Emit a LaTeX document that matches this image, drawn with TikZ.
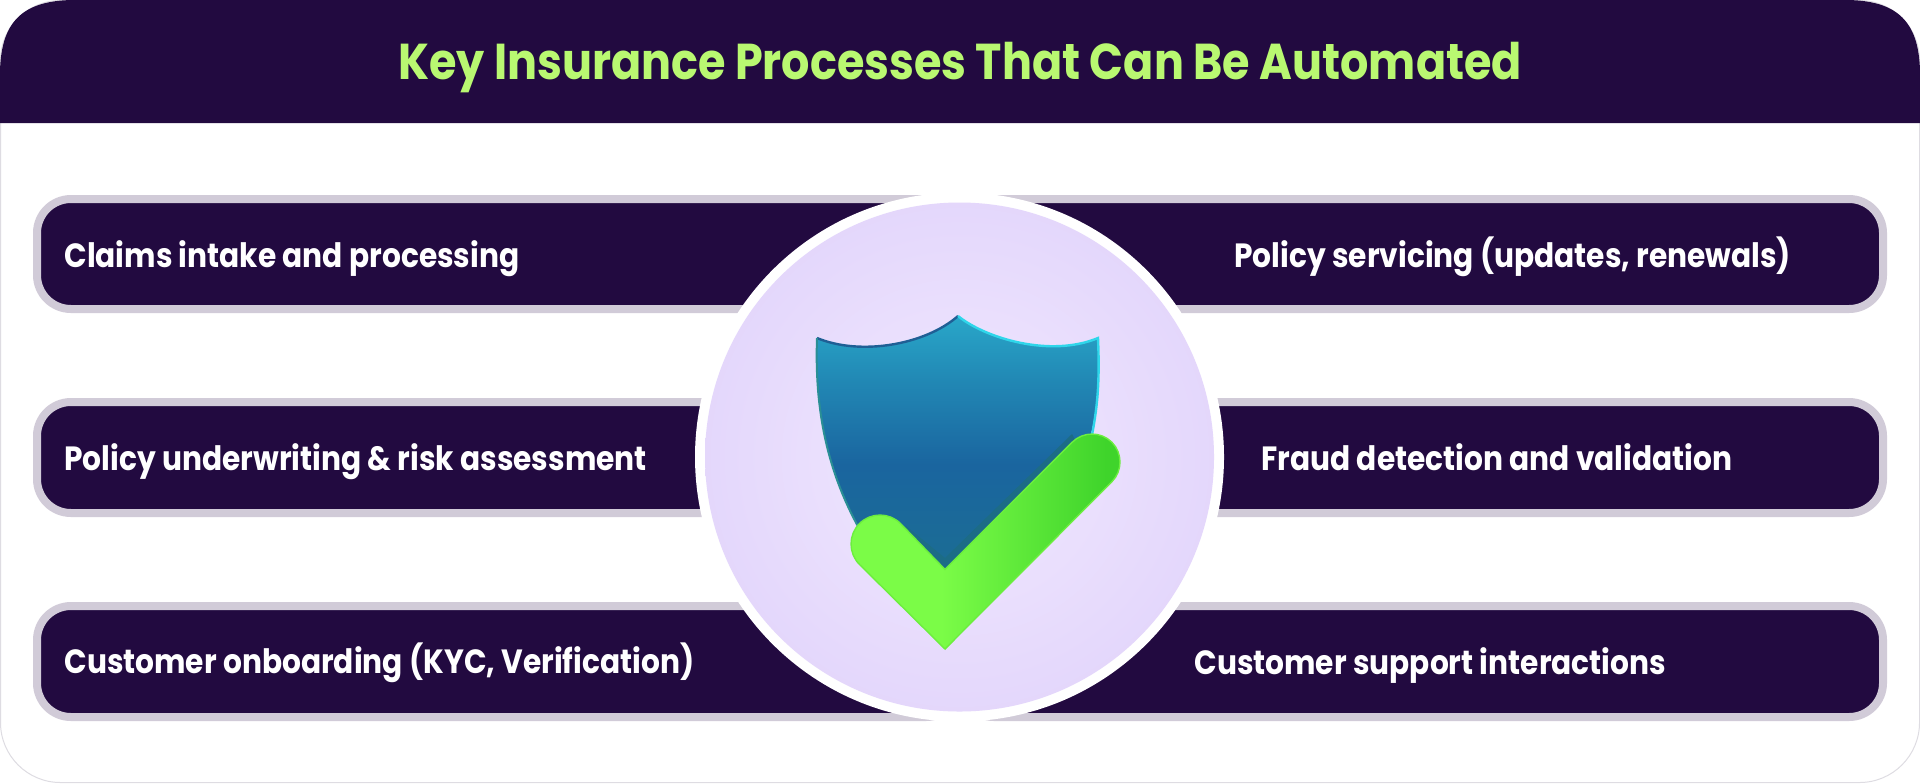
\documentclass[tikz,border=0pt]{standalone}
\usepackage{fontspec}
\setmainfont{Poppins}[BoldFont=Poppins Bold,BoldFeatures={FakeStretch=0.883}]
\definecolor{ink}{HTML}{220A40}
\definecolor{rim}{HTML}{D1CBD8}
\definecolor{lime}{HTML}{B9F871}
\definecolor{cardline}{HTML}{DEDCE2}
\definecolor{lava}{HTML}{EFE7FE}
\definecolor{lavb}{HTML}{EADFFD}
\definecolor{lavc}{HTML}{E2D5FB}
\definecolor{lave}{HTML}{DCCBF8}
\definecolor{sht}{HTML}{2DB8D4}
\definecolor{shn}{HTML}{2187B4}
\definecolor{shm}{HTML}{1A659F}
\definecolor{shk}{HTML}{1B6C95}
\definecolor{shb}{HTML}{33907A}
\definecolor{band}{HTML}{1C6C86}
\definecolor{chl}{HTML}{7BFC47}
\definecolor{chr}{HTML}{3FD42B}
\definecolor{chedge}{HTML}{6CEE3E}
\definecolor{shieldleft}{HTML}{1F5F95}
\definecolor{shieldlow}{HTML}{2A8F95}
\definecolor{shieldright}{HTML}{2FD6EA}
\pgfdeclareradialshading{lav}{\pgfpoint{0bp}{0bp}}{color(0bp)=(lava);color(14bp)=(lavb);color(28bp)=(lavc);color(40bp)=(lave);color(50bp)=(lave)}
\pgfdeclareverticalshading{shieldshade}{100bp}{color(0bp)=(shb);color(10bp)=(shb);color(28bp)=(shk);color(46bp)=(shm);color(62bp)=(shn);color(82bp)=(sht);color(100bp)=(sht)}
\pgfdeclarehorizontalshading{checkshade}{100bp}{color(0bp)=(chl);color(42bp)=(chl);color(72bp)=(chr);color(100bp)=(chr)}
\tikzset{
  rowbar/.style={draw=rim,fill=ink,line width=4pt,rounded corners=17pt},
  rowtext/.style={text=white,font=\fontsize{16.8}{20}\selectfont\bfseries,inner sep=0pt,anchor=base west},
}
\begin{document}
\begin{tikzpicture}[x=0.5pt,y=-0.5pt]
\useasboundingbox (0,0) rectangle (1920,783);
% card
\draw[cardline,fill=white,line width=0.5pt,rounded corners=30pt] (0.5,0.5) rectangle (1919.5,782.5);
% header
\fill[ink] (0,123) -- (0,75) .. controls (0,22) and (22,0) .. (75,0) -- (1845,0) .. controls (1898,0) and (1920,22) .. (1920,75) -- (1920,123) -- cycle;
\node[text=lime,font=\fontsize{25.2}{28}\selectfont\bfseries,inner sep=0pt] (title) at (960,68) {Key Insurance Processes That Can Be Automated};
% rows
\draw[rowbar] (37,199) rectangle (960,309);
\draw[rowbar] (37,402) rectangle (960,513);
\draw[rowbar] (37,606) rectangle (960,717);
\draw[rowbar] (960,199) rectangle (1883,309);
\draw[rowbar] (960,402) rectangle (1883,513);
\draw[rowbar] (960,606) rectangle (1883,717);
% medallion
\fill[white] (959.5,457) circle [radius=132.25pt];
\shade[shading=lav] (959.5,457) circle [radius=127.25pt];
% shield
\shade[shading=shieldshade]
  (958,316) .. controls (985,338) and (1050,358) .. (1098,338)
  .. controls (1100,400) and (1095,440) .. (1070,490) -- (946,572) -- (860,530)
  .. controls (832,480) and (814,420) .. (817,338)
  .. controls (860,356) and (925,345) .. (958,316) -- cycle;
\fill[band] (945,570) -- (1075,440) -- (1072,434) -- (945,558) -- (906,526) -- (902,530) -- cycle;
\draw[line width=1.2pt,color=shieldleft] (817,338) .. controls (860,356) and (925,345) .. (958,316);
\draw[line width=1.2pt,color=shieldright] (958,316) .. controls (985,338) and (1050,358) .. (1098,338) .. controls (1100,385) and (1097,410) .. (1091,440);
\draw[line width=1pt,color=shieldlow] (817,338) .. controls (814,420) and (832,480) .. (860,530);
% check mark
\shade[shading=checkshade,draw=chedge,line width=0.7pt]
  (945,649) -- (1111.8,481.8)
  .. controls (1122.7,470.9) and (1122.7,453.1) .. (1111.8,442.2)
  .. controls (1100.9,431.3) and (1083.1,431.3) .. (1072.2,442.2)
  -- (945,569.4) -- (900.5,523.5)
  .. controls (889.2,512.2) and (870.8,512.2) .. (859.5,523.5)
  .. controls (848.2,534.8) and (848.2,553.2) .. (859.5,564.5) -- cycle;
% labels
\node[rowtext] (a1) at (64,267) {Claims intake and processing};
\node[rowtext] (a2) at (64,470) {Policy underwriting \& risk assessment};
\node[rowtext] (a3) at (64,673) {Customer onboarding (KYC, Verification)};
\node[rowtext] (b1) at (1234,267) {Policy servicing (updates, renewals)};
\node[rowtext] (b2) at (1261,470) {Fraud detection and validation};
\node[rowtext] (b3) at (1194,674) {Customer support interactions};
\end{tikzpicture}
\end{document}
